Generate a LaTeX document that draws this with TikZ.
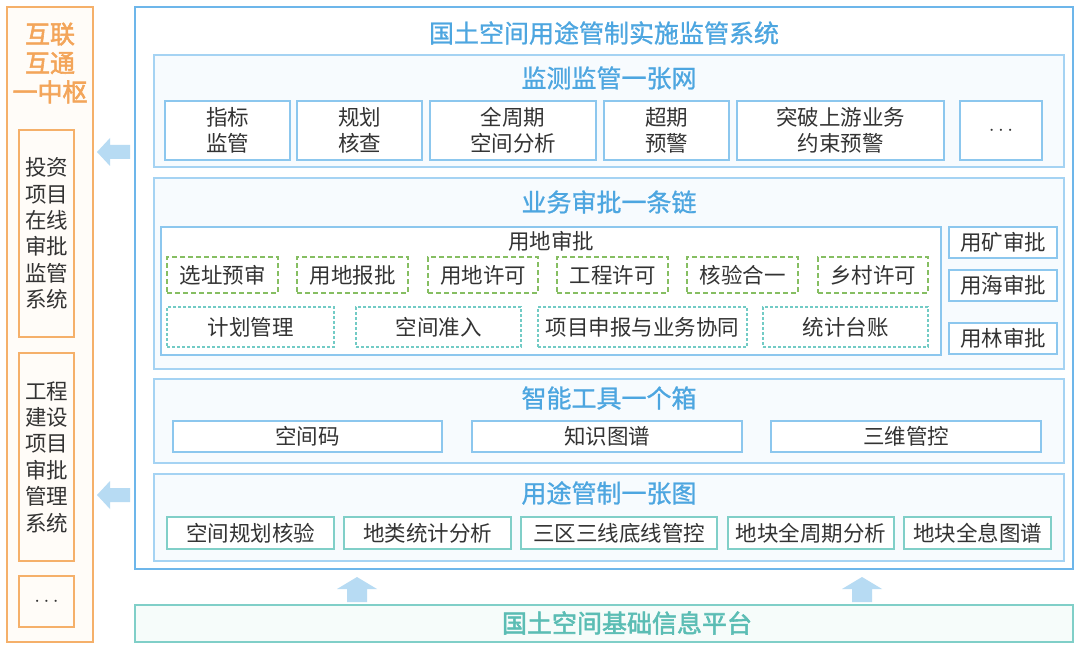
\documentclass[tikz,border=0pt]{standalone}
\usepackage{fontspec}
\setmainfont{Noto Sans CJK SC}
\newfontfamily\medfont{Noto Sans CJK SC}[FakeBold=1]
\newfontfamily\semifont{Noto Sans CJK SC}[FakeBold=2.2]
\definecolor{orgline}{HTML}{F5B06A}
\definecolor{orgfill}{HTML}{FFFCF8}
\definecolor{orgtext}{HTML}{F3A55A}
\definecolor{mainblue}{HTML}{6DB6EA}
\definecolor{titleblue}{HTML}{4DA6E0}
\definecolor{secline}{HTML}{A5D3F3}
\definecolor{secfill}{HTML}{F7FBFE}
\definecolor{itemblue}{HTML}{8CC7EE}
\definecolor{dgreen}{HTML}{86BE62}
\definecolor{dteal}{HTML}{72CBC5}
\definecolor{tealline}{HTML}{80CFC8}
\definecolor{platfill}{HTML}{F6FCFA}
\definecolor{plattext}{HTML}{5BBDB4}
\definecolor{arrowfill}{HTML}{B7DBF3}
\definecolor{txt}{HTML}{333333}
\begin{document}
\begin{tikzpicture}[x=1pt,y=-1pt,
  box/.style={draw=itemblue, fill=white, line width=1.2pt, inner sep=0pt, text=txt,
    font=\fontsize{21.5}{26}\selectfont, align=center},
  sec/.style={draw=secline, fill=secfill, line width=1.2pt, inner sep=0pt},
  sectitle/.style={text=titleblue, font=\medfont\fontsize{25}{30}\selectfont, inner sep=0pt},
  gbox/.style={box, draw=dgreen, dash pattern=on 5pt off 3pt},
  tbox/.style={box, draw=dteal, dash pattern=on 3pt off 2pt},
  mapbox/.style={box, draw=tealline},
  obox/.style={draw=orgline, fill=orgfill, line width=1.4pt, inner sep=0pt, text=txt,
    font=\fontsize{21.5}{26.4}\selectfont, align=center},
  blockarrow/.style={fill=arrowfill, draw=none}
]
\useasboundingbox (0,0) rectangle (1080,650);
\fill[white] (0,0) rectangle (1080,650);

% left panel
\node[obox, minimum width=86, minimum height=635] (left) at (50,324.5) {};
\node[text=orgtext, font=\semifont\fontsize{25}{29}\selectfont, align=center, inner sep=0pt] (lefttitle) at (50,63) {互联\\互通\\一中枢};
\node[obox, minimum width=55, minimum height=207] (invest) at (46.5,233.5) {投资\\项目\\在线\\审批\\监管\\系统};
\node[obox, minimum width=55, minimum height=208] (eng) at (46.5,457) {工程\\建设\\项目\\审批\\管理\\系统};
\node[obox, minimum width=55, minimum height=51] (ldots) at (46.5,601.5) {$\cdots$};

% main box
\node[draw=mainblue, fill=white, line width=1.6pt, minimum width=938, minimum height=562, inner sep=0pt] (main) at (604,288) {};
\node[sectitle] (maintitle) at (604,33) {国土空间用途管制实施监管系统};

% section 1
\node[sec, minimum width=910, minimum height=112] (s1) at (609,111) {};
\node[sectitle] (s1t) at (609,78) {监测监管一张网};
\node[box, minimum width=125, minimum height=59] (a1) at (227.5,130.5) {指标\\监管};
\node[box, minimum width=125, minimum height=59] (a2) at (359.5,130.5) {规划\\核查};
\node[box, minimum width=166, minimum height=59] (a3) at (513,130.5) {全周期\\空间分析};
\node[box, minimum width=125, minimum height=59] (a4) at (666.5,130.5) {超期\\预警};
\node[box, minimum width=207, minimum height=59] (a5) at (840.5,130.5) {突破上游业务\\约束预警};
\node[box, minimum width=82, minimum height=59] (a6) at (1001,130.5) {$\cdots$};

% section 2
\node[sec, minimum width=910, minimum height=191] (s2) at (609,273.5) {};
\node[sectitle] (s2t) at (609,202) {业务审批一条链};
\node[box, minimum width=780, minimum height=128] (land) at (551,291) {};
\node[text=txt, font=\fontsize{21.5}{26}\selectfont, inner sep=0pt] (landt) at (551,241) {用地审批};
\node[gbox, minimum width=111, minimum height=36] (g1) at (222.5,275) {选址预审};
\node[gbox, minimum width=111, minimum height=36] (g2) at (352.5,275) {用地报批};
\node[gbox, minimum width=110, minimum height=36] (g3) at (483,275) {用地许可};
\node[gbox, minimum width=111, minimum height=36] (g4) at (612.5,275) {工程许可};
\node[gbox, minimum width=111, minimum height=36] (g5) at (742.5,275) {核验合一};
\node[gbox, minimum width=110, minimum height=36] (g6) at (873,275) {乡村许可};
\node[tbox, minimum width=167, minimum height=40] (t1) at (250.5,327) {计划管理};
\node[tbox, minimum width=165, minimum height=40] (t2) at (438.5,327) {空间准入};
\node[tbox, minimum width=209, minimum height=40] (t3) at (642.5,327) {项目申报与业务协同};
\node[tbox, minimum width=165, minimum height=40] (t4) at (845.5,327) {统计台账};
\node[box, minimum width=108, minimum height=31] (r1) at (1003,242.5) {用矿审批};
\node[box, minimum width=108, minimum height=31] (r2) at (1003,285.5) {用海审批};
\node[box, minimum width=108, minimum height=31] (r3) at (1003,338.5) {用林审批};

% section 3
\node[sec, minimum width=910, minimum height=84] (s3) at (609,421) {};
\node[sectitle] (s3t) at (609,398) {智能工具一个箱};
\node[box, minimum width=269, minimum height=31] (k1) at (307.5,436.5) {空间码};
\node[box, minimum width=270, minimum height=31] (k2) at (607,436.5) {知识图谱};
\node[box, minimum width=270, minimum height=31] (k3) at (906,436.5) {三维管控};

% section 4
\node[sec, minimum width=910, minimum height=87] (s4) at (609,517.5) {};
\node[sectitle] (s4t) at (609,493) {用途管制一张图};
\node[mapbox, minimum width=167, minimum height=32] (m1) at (250.5,533) {空间规划核验};
\node[mapbox, minimum width=167, minimum height=32] (m2) at (427.5,533) {地类统计分析};
\node[mapbox, minimum width=196, minimum height=32] (m3) at (619,533) {三区三线底线管控};
\node[mapbox, minimum width=166, minimum height=32] (m4) at (811,533) {地块全周期分析};
\node[mapbox, minimum width=147, minimum height=32] (m5) at (977.5,533) {地块全息图谱};

% platform
\node[draw=tealline, fill=platfill, line width=1.6pt, minimum width=938, minimum height=37, inner sep=0pt] (plat) at (604,623.5) {};
\node[text=plattext, font=\semifont\fontsize{25}{30}\selectfont, inner sep=0pt] (platt) at (627,623) {国土空间基础信息平台};

% block arrows
\fill[blockarrow] (97,152) -- (110,138) -- (110,145) -- (130,145) -- (130,159) -- (110,159) -- (110,166) -- cycle;
\fill[blockarrow] (97,495) -- (110,481) -- (110,488) -- (130,488) -- (130,502) -- (110,502) -- (110,509) -- cycle;
\fill[blockarrow] (357,577) -- (377,589) -- (367,589) -- (367,602) -- (347,602) -- (347,589) -- (337,589) -- cycle;
\fill[blockarrow] (862,577) -- (882,589) -- (872,589) -- (872,602) -- (852,602) -- (852,589) -- (842,589) -- cycle;
\end{tikzpicture}
\end{document}
